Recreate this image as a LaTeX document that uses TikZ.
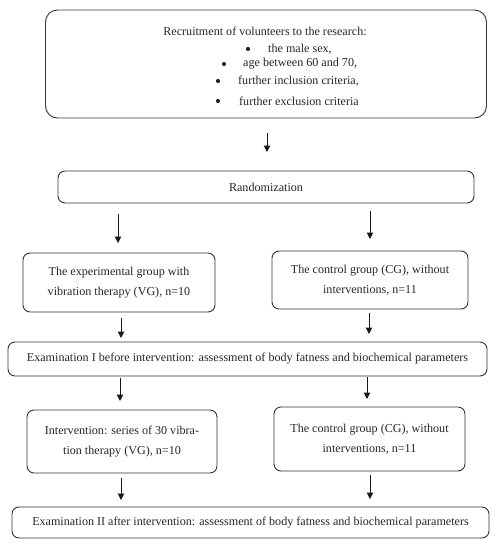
\documentclass[tikz,border=0pt]{standalone}
\usepackage{fontspec}
\setmainfont{Liberation Serif}
\usetikzlibrary{arrows.meta}
\begin{document}
\begin{tikzpicture}[x=1pt,y=-1pt,
  box/.style={draw=black!80, line width=0.9pt, rounded corners=7pt, align=center,
    inner sep=0pt, text=black!85, font=\fontsize{12.1}{20.5}\selectfont},
  txt/.style={inner sep=0pt, text=black!85, font=\fontsize{12.1}{13}\selectfont},
  dot/.style={circle, fill=black!85, inner sep=0pt, minimum size=4.2pt},
  arr/.style={draw=black!90, line width=1pt, -{Triangle[length=6.5pt,width=6.5pt]}}]
\useasboundingbox (0,0) rectangle (496,550);
% boxes
\node[box, rounded corners=12pt, minimum width=441pt, minimum height=108pt] (b1) at (266,64) {};
\node[txt] (t0) at (265,31) {Recruitment of volunteers to the research:};
\node[dot] (u1) at (248,49) {};
\node[txt, anchor=west] (t1) at (268,49) {the male sex,};
\node[dot] (u2) at (224,64) {};
\node[txt, anchor=west] (t2) at (243,64) {age between 60 and 70,};
\node[dot] (u3) at (218,81) {};
\node[txt, anchor=west] (t3) at (238,81) {further inclusion criteria,};
\node[dot] (u4) at (218,101) {};
\node[txt, anchor=west] (t4) at (239,101) {further exclusion criteria};

\node[box, minimum width=416pt, minimum height=32pt] (b2) at (266,187) {Randomization};
\node[box, minimum width=192pt, minimum height=59pt] (b3) at (119,282.5) {The experimental group with\\vibration therapy (VG), n=10};
\node[box, minimum width=196pt, minimum height=58pt] (b4) at (370,280) {The control group (CG), without\\interventions, n=11};
\node[box, minimum width=479pt, minimum height=34pt] (b5) at (247.5,359) {Examination I before intervention: assessment of body fatness and biochemical parameters};
\node[box, minimum width=190pt, minimum height=63pt] (b6) at (122,441.5) {Intervention: series of 30 vibra-\\tion therapy (VG), n=10};
\node[box, minimum width=191pt, minimum height=64pt] (b7) at (369.5,439) {The control group (CG), without\\interventions, n=11};
\node[box, minimum width=477pt, minimum height=31pt] (b8) at (250.5,522.5) {Examination II after intervention: assessment of body fatness and biochemical parameters};

% arrow end points
\coordinate (a1s) at (267,133); \coordinate (a1e) at (267,152);
\coordinate (a2s) at (118,214); \coordinate (a2e) at (118,243);
\coordinate (a3s) at (370,211); \coordinate (a3e) at (370,239);
\coordinate (a4s) at (121,318); \coordinate (a4e) at (121,338);
\coordinate (a5s) at (369,313); \coordinate (a5e) at (369,334);
\coordinate (a6s) at (120,378); \coordinate (a6e) at (120,401);
\coordinate (a7s) at (367,377); \coordinate (a7e) at (367,399);
\coordinate (a8s) at (121,478); \coordinate (a8e) at (121,500);
\coordinate (a9s) at (370,475); \coordinate (a9e) at (370,499);
\foreach \i in {1,...,9} {\draw[arr] (a\i s) -- (a\i e);}
\end{tikzpicture}
\end{document}
